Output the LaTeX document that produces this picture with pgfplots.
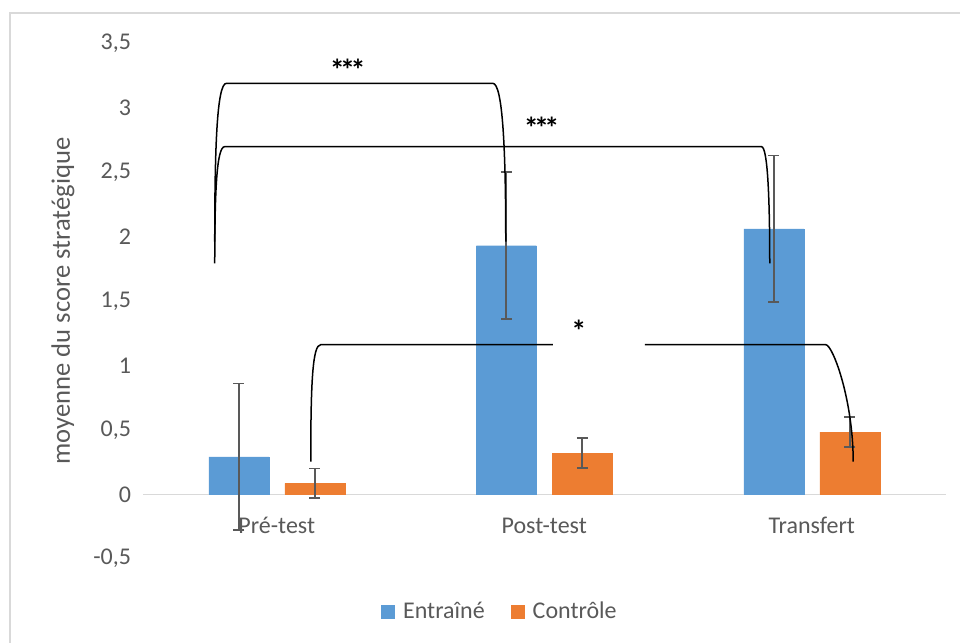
\documentclass[border=0pt]{standalone}
\usepackage{fontspec}
\setmainfont{Carlito}
\usepackage{pgfplots}
\pgfplotsset{compat=1.18}
\definecolor{cblue}{HTML}{5B9BD5}
\definecolor{corange}{HTML}{ED7D31}
\definecolor{tgray}{HTML}{595959}
\definecolor{lgray}{HTML}{D9D9D9}
\begin{document}
\begin{tikzpicture}
\path[use as bounding box] (0,0) rectangle (480pt,321.5pt);
\draw[lgray, line width=0.75pt] (5pt,-2pt) -- (5pt,315pt) -- (482pt,315pt);
\begin{axis}[
  at={(71.5pt,42.15pt)}, anchor=south west,
  scale only axis, width=401.25pt, height=257.6pt,
  xmin=-0.5, xmax=2.5, ymin=-0.5, ymax=3.5,
  ybar, bar width=30pt,
  xtick={0,1,2}, xticklabels={Pré-test,Post-test,Transfert},
  ytick={-0.5,0,0.5,1,1.5,2,2.5,3,3.5},
  axis line style={draw=none},
  tick style={draw=none},
  clip=false,
  yticklabel style={font=\fontsize{12}{14}\selectfont, text=tgray, xshift=-2.5pt},
  xticklabel style={font=\fontsize{12}{14}\selectfont, text=tgray, anchor=base, yshift=17pt},
  ylabel={moyenne du score stratégique},
  ylabel style={font=\fontsize{13.3}{15}\selectfont, text=tgray, at={(axis description cs:-0.0997,0.5)}, anchor=center},
  legend style={at={(axis description cs:0.446,-0.1035)}, anchor=center, draw=none, fill=none,
    legend columns=2, font=\fontsize{12}{14}\selectfont, text=tgray,
    /tikz/every even column/.append style={column sep=11pt}},
  legend image code/.code={\fill[#1, draw=none] (0pt,-3.5pt) rectangle (7pt,3.5pt); \path[draw=none, fill=none] (0pt,0pt) -- (9pt,0pt);},
  /pgf/number format/use comma,
  /pgf/number format/assume math mode=true,
]
\draw[lgray, line width=0.75pt] (axis cs:-0.5,0) -- (axis cs:2.5,0);
\addplot[fill=cblue, draw=cblue, line width=0.1pt, bar shift=-19pt,
  error bars/.cd, y dir=both, y explicit,
  error bar style={draw=tgray, line width=0.9pt},
  error mark options={draw=tgray, line width=0.9pt, mark size=2.75pt, rotate=90}]
  coordinates {(0,0.29) +- (0,0.57) (1,1.93) +- (0,0.57) (2,2.06) +- (0,0.57)};
\addplot[fill=corange, draw=corange, line width=0.1pt, bar shift=19pt,
  error bars/.cd, y dir=both, y explicit,
  error bar style={draw=tgray, line width=0.9pt},
  error mark options={draw=tgray, line width=0.9pt, mark size=2.75pt, rotate=90}]
  coordinates {(0,0.085) +- (0,0.115) (1,0.32) +- (0,0.117) (2,0.483) +- (0,0.117)};
\legend{Entraîné, Contrôle}
% significance brackets
\draw[black, line width=0.75pt] (axis cs:-0.2318,1.961) .. controls (axis cs:-0.2318,2.673) and (axis cs:-0.2243,3.191) .. (axis cs:-0.188,3.191) -- (axis cs:0.8075,3.191) .. controls (axis cs:0.8449,3.191) and (axis cs:0.8561,2.673) .. (axis cs:0.8561,1.961);
\draw[black, line width=0.75pt] (axis cs:-0.2318,1.793) .. controls (axis cs:-0.2318,2.363) and (axis cs:-0.2243,2.699) .. (axis cs:-0.1944,2.699) -- (axis cs:1.812,2.699) .. controls (axis cs:1.8355,2.699) and (axis cs:1.843,2.286) .. (axis cs:1.843,1.793);
\draw[black, line width=0.75pt] (axis cs:0.1271,0.253) .. controls (axis cs:0.1271,0.887) and (axis cs:0.1346,1.1615) .. (axis cs:0.1645,1.1615) -- (axis cs:1.0318,1.1615);
\draw[black, line width=0.75pt] (axis cs:1.3757,1.1615) -- (axis cs:2.0523,1.1615) .. controls (axis cs:2.0785,1.1615) and (axis cs:2.155,0.732) .. (axis cs:2.155,0.253);
\node[font=\fontsize{15}{18}\selectfont\bfseries, anchor=base, inner sep=0pt] at (axis cs:0.265,3.21) {*\kern-2.3pt*\kern-2.3pt*};
\node[font=\fontsize{15}{18}\selectfont\bfseries, anchor=base, inner sep=0pt] at (axis cs:0.99,2.76) {*\kern-2.3pt*\kern-2.3pt*};
\node[font=\fontsize{15}{18}\selectfont\bfseries, anchor=base, inner sep=0pt] at (axis cs:1.129,1.19) {*};
\end{axis}
\end{tikzpicture}
\end{document}
